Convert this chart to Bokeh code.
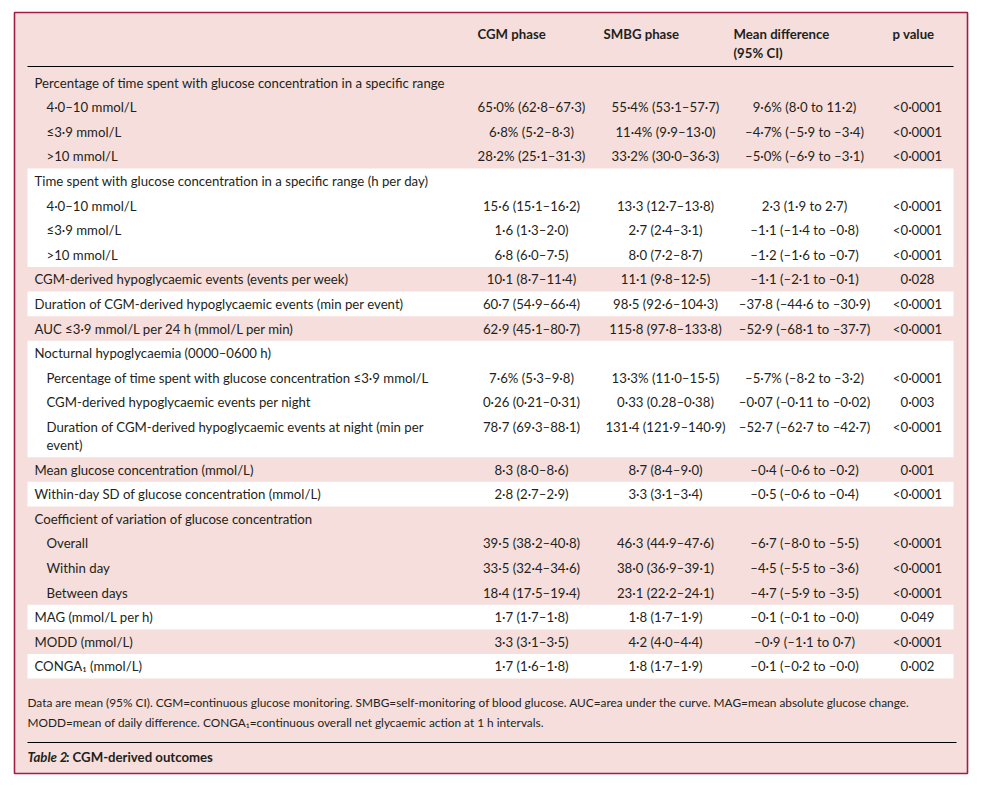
from bokeh.plotting import figure
from bokeh.models import Range1d
from bokeh.embed import file_html
from bokeh.resources import INLINE
from bokeh.core.properties import value

# ---------------- data ----------------
headers = ["CGM phase", "SMBG phase", "Mean difference\n(95% CI)", "p value"]

labels = [
    "Percentage of time spent with glucose concentration in a specific range",
    "4·0–10 mmol/L",
    "≤3·9 mmol/L",
    ">10 mmol/L",
    "Time spent with glucose concentration in a specific range (h per day)",
    "4·0–10 mmol/L",
    "≤3·9 mmol/L",
    ">10 mmol/L",
    "CGM-derived hypoglycaemic events (events per week)",
    "Duration of CGM-derived hypoglycaemic events (min per event)",
    "AUC ≤3·9 mmol/L per 24 h (mmol/L per min)",
    "Nocturnal hypoglycaemia (0000–0600 h)",
    "Percentage of time spent with glucose concentration ≤3·9 mmol/L",
    "CGM-derived hypoglycaemic events per night",
    "Duration of CGM-derived hypoglycaemic events at night (min per\nevent)",
    "Mean glucose concentration (mmol/L)",
    "Within-day SD of glucose concentration (mmol/L)",
    "Coefficient of variation of glucose concentration",
    "Overall",
    "Within day",
    "Between days",
    "MAG (mmol/L per h)",
    "MODD (mmol/L)",
    "CONGA₁ (mmol/L)",
]
indent = [0, 1, 1, 1, 0, 1, 1, 1, 0, 0, 0, 0, 1, 1, 1, 0, 0, 0, 1, 1, 1, 0, 0, 0]
group = [0, 0, 0, 0, 1, 1, 1, 1, 2, 3, 4, 5, 5, 5, 5, 6, 7, 8, 8, 8, 8, 9, 10, 11]

cgm = [
    "", "65·0% (62·8–67·3)", "6·8% (5·2–8·3)", "28·2% (25·1–31·3)",
    "", "15·6 (15·1–16·2)", "1·6 (1·3–2·0)", "6·8 (6·0–7·5)",
    "10·1 (8·7–11·4)", "60·7 (54·9–66·4)", "62·9 (45·1–80·7)",
    "", "7·6% (5·3–9·8)", "0·26 (0·21–0·31)", "78·7 (69·3–88·1)",
    "8·3 (8·0–8·6)", "2·8 (2·7–2·9)",
    "", "39·5 (38·2–40·8)", "33·5 (32·4–34·6)", "18·4 (17·5–19·4)",
    "1·7 (1·7–1·8)", "3·3 (3·1–3·5)", "1·7 (1·6–1·8)",
]
smbg = [
    "", "55·4% (53·1–57·7)", "11·4% (9·9–13·0)", "33·2% (30·0–36·3)",
    "", "13·3 (12·7–13·8)", "2·7 (2·4–3·1)", "8·0 (7·2–8·7)",
    "11·1 (9·8–12·5)", "98·5 (92·6–104·3)", "115·8 (97·8–133·8)",
    "", "13·3% (11·0–15·5)", "0·33 (0.28–0·38)", "131·4 (121·9–140·9)",
    "8·7 (8·4–9·0)", "3·3 (3·1–3·4)",
    "", "46·3 (44·9–47·6)", "38·0 (36·9–39·1)", "23·1 (22·2–24·1)",
    "1·8 (1·7–1·9)", "4·2 (4·0–4·4)", "1·8 (1·7–1·9)",
]
diff = [
    "", "9·6% (8·0 to 11·2)", "–4·7% (–5·9 to –3·4)", "–5·0% (–6·9 to –3·1)",
    "", "2·3 (1·9 to 2·7)", "–1·1 (–1·4 to –0·8)", "–1·2 (–1·6 to –0·7)",
    "–1·1 (–2·1 to –0·1)", "–37·8 (–44·6 to –30·9)", "–52·9 (–68·1 to –37·7)",
    "", "–5·7% (–8·2 to –3·2)", "–0·07 (–0·11 to –0·02)", "–52·7 (–62·7 to –42·7)",
    "–0·4 (–0·6 to –0·2)", "–0·5 (–0·6 to –0·4)",
    "", "–6·7 (–8·0 to –5·5)", "–4·5 (–5·5 to –3·6)", "–4·7 (–5·9 to –3·5)",
    "–0·1 (–0·1 to –0·0)", "–0·9 (–1·1 to 0·7)", "–0·1 (–0·2 to –0·0)",
]
pval = [
    "", "<0·0001", "<0·0001", "<0·0001",
    "", "<0·0001", "<0·0001", "<0·0001",
    "0·028", "<0·0001", "<0·0001",
    "", "<0·0001", "0·003", "<0·0001",
    "0·001", "<0·0001",
    "", "<0·0001", "<0·0001", "<0·0001",
    "0·049", "<0·0001", "0·002",
]

footnote = [
    "Data are mean (95% CI). CGM=continuous glucose monitoring. SMBG=self-monitoring of blood glucose. AUC=area under the curve. MAG=mean absolute glucose change.",
    "MODD=mean of daily difference. CONGA₁=continuous overall net glycaemic action at 1 h intervals.",
]
title_a = "Table 2"
title_b = ": CGM-derived outcomes"

# ---------------- layout ----------------
FONT = "Lato"
FS = "13.2px"
PINK = "#f5dedb"
BORDER = "#9e1f42"
INK = "#231f20"

W, H = 980, 781
p = figure(width=W, height=H, output_backend="svg", toolbar_location=None,
           x_range=Range1d(0, W), y_range=Range1d(H, 0),
           min_border=0, outline_line_color=None)
p.axis.visible = False
p.grid.visible = False
p.background_fill_color = "white"
p.border_fill_color = "white"

# outer panel
p.quad(left=[14], right=[967], top=[12], bottom=[773], fill_color=PINK,
       line_color=BORDER, line_width=1.6)

# row positions
Y0, PITCH, WRAP = 82.0, 24.6, 18.0
row_y, row_end = [], []
y = Y0
for lab in labels:
    n = lab.count("\n")
    row_y.append(y)
    row_end.append(y + n * WRAP)
    y += PITCH + n * WRAP

# white bands for odd groups
bl, br, bt, bb = [], [], [], []
for g in sorted(set(group)):
    if g % 2 == 1:
        idx = [i for i, gg in enumerate(group) if gg == g]
        bl.append(27); br.append(953)
        bt.append(row_y[idx[0]] - PITCH / 2)
        bb.append(row_end[idx[-1]] + PITCH / 2)
p.quad(left=bl, right=br, top=bt, bottom=bb, fill_color="white", line_color=None)

# header rule & bottom rule
p.segment(x0=[27, 27], x1=[953, 956], y0=[66, 742], y1=[66, 742],
          line_color="black", line_width=1)

# header texts
hx = [477, 603, 733, 892]
htx, hty, htt = [], [], []
for x, h in zip(hx, headers):
    for k, line in enumerate(h.split("\n")):
        htx.append(x); hty.append(33 + k * 19); htt.append(line)
p.text(x=htx, y=hty, text=htt, text_font=value(FONT), text_font_size=value(FS),
       text_font_style="bold", text_color=INK, text_align="left", text_baseline="middle")

# row labels
lx, ly, lt = [], [], []
for lab, ind, yy in zip(labels, indent, row_y):
    for k, line in enumerate(lab.split("\n")):
        lx.append(34 + 12 * ind); ly.append(yy + k * WRAP); lt.append(line)
p.text(x=lx, y=ly, text=lt, text_font=value(FONT), text_font_size=value(FS),
       text_color=INK, text_align="left", text_baseline="middle")

# value columns
cx = [531, 665, 804, 917]
vx, vy, vt = [], [], []
for col, x in zip([cgm, smbg, diff, pval], cx):
    for v, yy in zip(col, row_y):
        if v:
            vx.append(x); vy.append(yy); vt.append(v)
p.text(x=vx, y=vy, text=vt, text_font=value(FONT), text_font_size=value(FS),
       text_color=INK, text_align="center", text_baseline="middle")

# footnote
p.text(x=[27] * len(footnote), y=[702 + 19.5 * k for k in range(len(footnote))],
       text=footnote, text_font=value(FONT), text_font_size=value("11.85px"),
       text_color=INK, text_align="left", text_baseline="middle")

# title
p.text(x=[27], y=[756], text=[title_a], text_font=value(FONT), text_font_size=value(FS),
       text_font_style="bold italic", text_color=INK, text_align="left", text_baseline="middle")
p.text(x=[65.5], y=[756], text=[title_b], text_font=value(FONT), text_font_size=value(FS),
       text_font_style="bold", text_color=INK, text_align="left", text_baseline="middle")

open("out.html", "w").write(file_html(p, INLINE))
